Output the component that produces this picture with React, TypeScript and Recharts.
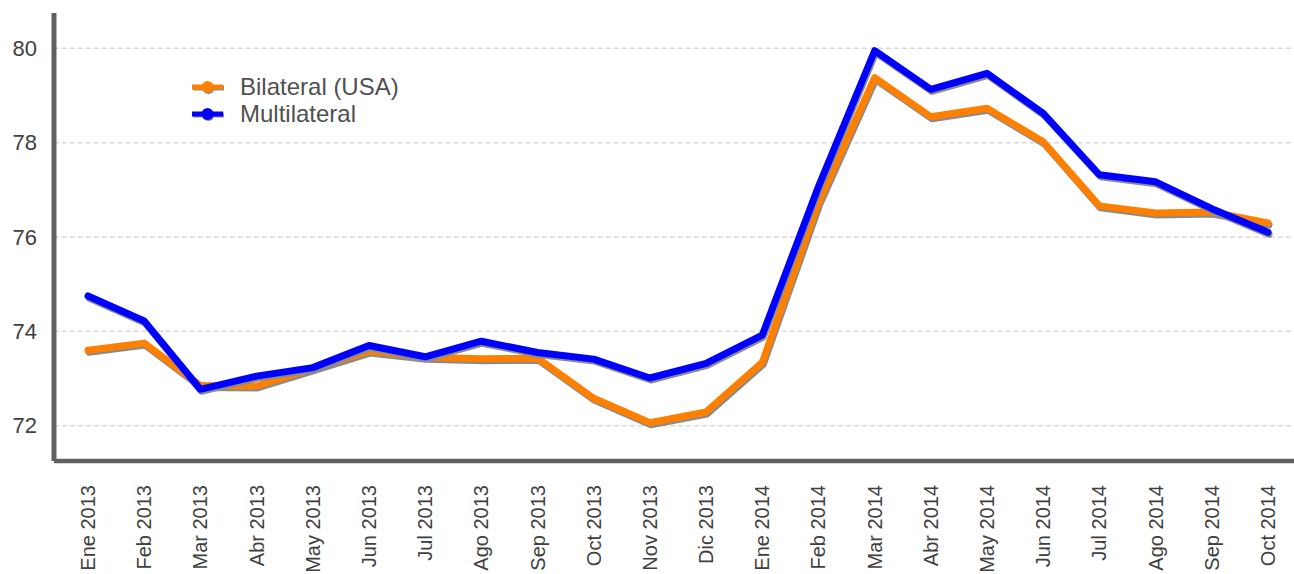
import React from 'react';
import { LineChart, Line, XAxis, YAxis, CartesianGrid } from 'recharts';

const months = ['Ene 2013','Feb 2013','Mar 2013','Abr 2013','May 2013','Jun 2013','Jul 2013','Ago 2013','Sep 2013','Oct 2013','Nov 2013','Dic 2013','Ene 2014','Feb 2014','Mar 2014','Abr 2014','May 2014','Jun 2014','Jul 2014','Ago 2014','Sep 2014','Oct 2014'];
const bilateral = [73.60,73.75,72.85,72.84,73.21,73.58,73.45,73.42,73.43,72.58,72.06,72.29,73.34,76.72,79.38,78.55,78.73,78.02,76.66,76.51,76.53,76.30];
const multilateral = [74.75,74.22,72.77,73.05,73.23,73.70,73.46,73.79,73.55,73.41,73.01,73.32,73.92,77.07,79.95,79.13,79.47,78.62,77.32,77.17,76.60,76.10];
const yTicks = [72, 74, 76, 78, 80];

const data = months.map((m, i) => ({ month: m, bilateral: bilateral[i], multilateral: multilateral[i] }));

const FONT = '"Liberation Sans", Arial, sans-serif';

const XTick = (props: any) => {
  const { x, y, payload } = props;
  return (
    <text
      x={0}
      y={0}
      transform={`translate(${x + 7},${y + 16}) rotate(-90)`}
      textAnchor="end"
      fontSize={20}
      fontFamily={FONT}
      fill="#404040"
    >
      {payload.value}
    </text>
  );
};

const YTick = (props: any) => {
  const { y, payload } = props;
  return (
    <text x={37} y={y + 7.5} textAnchor="end" fontSize={22} fontFamily={FONT} fill="#404040">
      {payload.value}
    </text>
  );
};

const legendItems = [
  { label: 'Bilateral (USA)', color: '#FF8000' },
  { label: 'Multilateral', color: '#0000FF' },
];

export default function App() {
  return (
    <div style={{ position: 'absolute', left: 0, top: 0, width: 1294, height: 574, background: '#fff' }}>
      <style>{`.shadow-line { filter: drop-shadow(1.5px 2px 0px #8a8a8a); }`}</style>
      <LineChart width={1294} height={574} data={data} margin={{ top: 13, right: 0, bottom: 0, left: 0 }}>
        <CartesianGrid
          vertical={false}
          horizontalValues={yTicks}
          stroke="#d9d9d9"
          strokeDasharray="5 3"
          strokeWidth={1.5}
        />
        <XAxis
          dataKey="month"
          height={113}
          padding={{ left: 34, right: 26 }}
          stroke="#606060"
          strokeWidth={4.5}
          tickLine={false}
          tick={<XTick />}
          interval={0}
        />
        <YAxis
          domain={[71.25, 80.75]}
          ticks={yTicks}
          width={54}
          stroke="#606060"
          strokeWidth={5}
          tickLine={false}
          tick={<YTick />}
          allowDataOverflow
        />
        <Line
          type="linear"
          dataKey="bilateral"
          name="Bilateral (USA)"
          stroke="#FF8000"
          strokeWidth={7}
          strokeLinecap="round"
          strokeLinejoin="round"
          dot={false}
          activeDot={false}
          className="shadow-line"
          isAnimationActive={false}
        />
        <Line
          type="linear"
          dataKey="multilateral"
          name="Multilateral"
          stroke="#0000FF"
          strokeWidth={7}
          strokeLinecap="round"
          strokeLinejoin="round"
          dot={false}
          activeDot={false}
          className="shadow-line"
          isAnimationActive={false}
        />
      </LineChart>
      <div style={{ position: 'absolute', left: 190, top: 73, fontFamily: FONT }}>
        {legendItems.map((it) => (
          <div key={it.label} style={{ display: 'flex', alignItems: 'center', height: 27 }}>
            <svg width={36} height={16} style={{ overflow: 'visible' }}>
              <g style={{ filter: 'drop-shadow(1px 1.5px 0px #8a8a8a)' }}>
                <line x1={2} y1={8} x2={33} y2={8} stroke={it.color} strokeWidth={5} />
                <circle cx={17.5} cy={8} r={6} fill={it.color} />
              </g>
            </svg>
            <span style={{ marginLeft: 14, fontSize: 24, color: '#505050' }}>{it.label}</span>
          </div>
        ))}
      </div>
    </div>
  );
}
